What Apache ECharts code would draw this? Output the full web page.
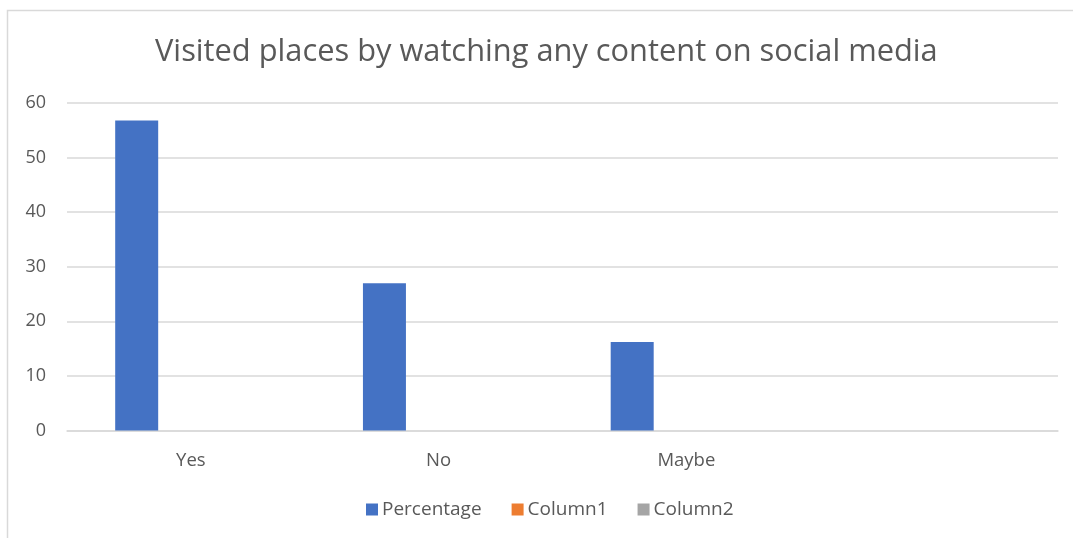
<!DOCTYPE html>
<html>
<head>
<meta charset="utf-8">
<script src="https://cdn.jsdelivr.net/npm/echarts@6/dist/echarts.min.js"></script>
<style>
  html, body { margin: 0; padding: 0; background: #fff; }
  #chart { width: 1073px; height: 538px; }
</style>
</head>
<body>
<div id="chart"></div>
<script>
// Survey answers: share of respondents who visited a place after seeing it on social media
const categories = ['Yes', 'No', 'Maybe', ''];
const percentage = [56.8, 27, 16.2, null];
const column1 = [null, null, null, null];
const column2 = [null, null, null, null];
const yTicks = { min: 0, max: 60, interval: 10 };

const FONT = 'Open Sans';
const TEXT = '#595959';

const chart = echarts.init(document.getElementById('chart'), null, { renderer: 'canvas' });
chart.setOption({
  animation: false,
  backgroundColor: '#fff',
  textStyle: { fontFamily: FONT },
  graphic: [{
    type: 'rect',
    shape: { x: 7.5, y: 10.5, width: 1200, height: 700 },
    style: { fill: 'none', stroke: '#d9d9d9', lineWidth: 1.5 },
    silent: true
  }],
  title: {
    text: 'Visited places by watching any content on social media',
    left: 150,
    top: 32,
    textStyle: { fontFamily: FONT, fontSize: 30.8, fontWeight: 'normal', color: TEXT }
  },
  legend: {
    top: 495,
    left: 361,
    itemWidth: 12,
    itemHeight: 12,
    itemGap: 30,
    icon: 'rect',
    textStyle: { fontFamily: FONT, fontSize: 19, color: TEXT, padding: [0, 0, 0, -1] }
  },
  grid: { left: 67, right: 15, top: 103, bottom: 107.5, containLabel: false },
  xAxis: {
    type: 'category',
    data: categories,
    axisLine: { show: true, lineStyle: { color: '#d9d9d9', width: 1.5 } },
    axisTick: { show: false },
    axisLabel: { fontFamily: FONT, fontSize: 18.5, color: TEXT, margin: 21 }
  },
  yAxis: {
    type: 'value',
    min: yTicks.min,
    max: yTicks.max,
    interval: yTicks.interval,
    axisLine: { show: false },
    axisTick: { show: false },
    splitLine: { lineStyle: { color: '#d9d9d9', width: 1.5 } },
    axisLabel: { fontFamily: FONT, fontSize: 18, color: TEXT, margin: 21 }
  },
  series: [
    { name: 'Percentage', type: 'bar', data: percentage, barWidth: 43, barGap: '26%',
      itemStyle: { color: '#4472c4' } },
    { name: 'Column1', type: 'bar', data: column1, barWidth: 43, barGap: '26%',
      itemStyle: { color: '#ed7d31' } },
    { name: 'Column2', type: 'bar', data: column2, barWidth: 43, barGap: '26%',
      itemStyle: { color: '#a5a5a5' } }
  ]
});
</script>
</body>
</html>
